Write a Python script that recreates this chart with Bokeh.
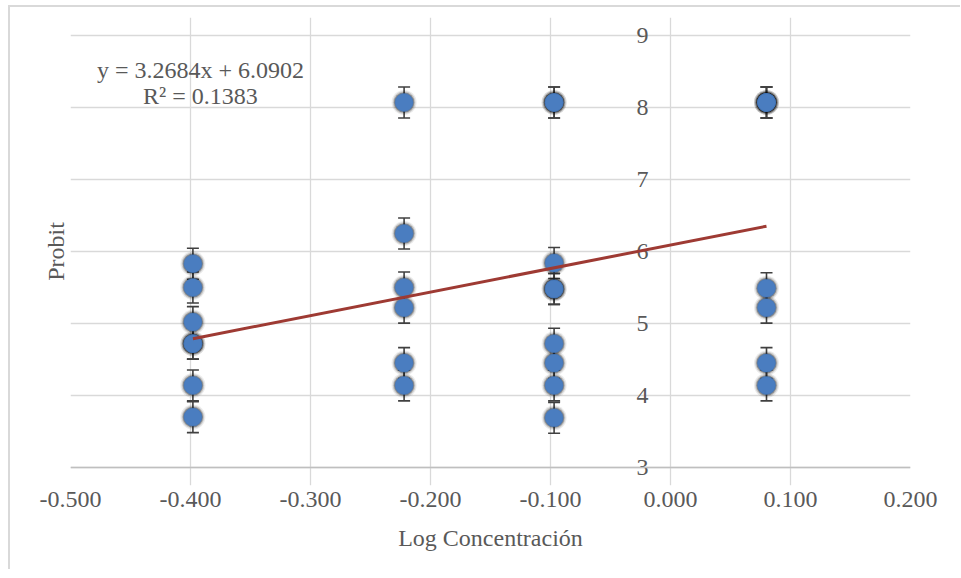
from bokeh.plotting import figure
from bokeh.models import (ColumnDataSource, FixedTicker, Whisker, TeeHead, Label, Range1d, Span)
from bokeh.core.properties import value
from bokeh.embed import file_html
from bokeh.resources import INLINE

# ---- data ----
log_conc = [-0.398, -0.398, -0.398, -0.398, -0.398, -0.398, -0.398,
            -0.222, -0.222, -0.222, -0.222, -0.222, -0.222,
            -0.097, -0.097, -0.097, -0.097, -0.097, -0.097, -0.097, -0.097, -0.097,
            0.080, 0.080, 0.080, 0.080, 0.080, 0.080, 0.080]
probit = [5.83, 5.50, 5.02, 4.72, 4.72, 4.14, 3.70,
          8.07, 6.25, 5.50, 5.22, 4.45, 4.14,
          8.07, 8.07, 5.84, 5.48, 5.48, 4.72, 4.45, 4.14, 3.69,
          8.07, 8.07, 8.07, 5.49, 5.22, 4.45, 4.14]
error = [0.215] * len(probit)

slope = 3.2684
intercept = 6.0902
r_squared = 0.1383

x_ticks = [-0.5, -0.4, -0.3, -0.2, -0.1, 0.0, 0.1, 0.2]
x_tick_labels = ["-0.500", "-0.400", "-0.300", "-0.200", "-0.100", "0.000", "0.100", "0.200"]
y_ticks = [3, 4, 5, 6, 7, 8, 9]
y_tick_labels = ["3", "4", "5", "6", "7", "8", "9"]
y_axis_cross = 0.0
y_min, y_max = 3, 9
pad = 0.25  # room inside the frame for the tick labels at the ends

FONT = "Liberation Serif"
TXT = "#595959"
GRID = "#d9d9d9"

p = figure(width=950, height=562, output_backend="svg", toolbar_location=None,
           x_range=Range1d(-0.5, 0.2), y_range=Range1d(y_min - pad, y_max + pad),
           frame_width=840, frame_height=468,
           min_border_left=60, min_border_right=50, min_border_top=10, min_border_bottom=84)
p.outline_line_color = None
p.background_fill_color = "white"
p.border_fill_color = "white"
p.styles = {"border-left": "2px solid #d9d9d9", "border-top": "2px solid #d9d9d9",
            "margin-left": "8px", "margin-top": "5px"}

# x axis
p.xaxis.ticker = FixedTicker(ticks=x_ticks)
p.xaxis.major_label_overrides = {t: l for t, l in zip(x_ticks, x_tick_labels)}
p.xaxis.axis_line_color = None
p.xaxis.major_tick_line_color = None
p.xaxis.minor_tick_line_color = None
p.xaxis.major_label_text_font = FONT
p.xaxis.major_label_text_font_size = "24px"
p.xaxis.major_label_text_color = TXT
p.xaxis.major_label_standoff = 0
p.xaxis.axis_label = "Log Concentración"
p.xaxis.axis_label_text_font = FONT
p.xaxis.axis_label_text_font_size = "24px"
p.xaxis.axis_label_text_font_style = "normal"
p.xaxis.axis_label_text_color = TXT
p.xaxis.axis_label_standoff = 15

# y axis title (left edge)
p.yaxis.ticker = FixedTicker(ticks=[])
p.yaxis.axis_line_color = None
p.yaxis.major_tick_line_color = None
p.yaxis.minor_tick_line_color = None
p.yaxis.axis_label = "Probit"
p.yaxis.axis_label_text_font = FONT
p.yaxis.axis_label_text_font_size = "24px"
p.yaxis.axis_label_text_font_style = "normal"
p.yaxis.axis_label_text_color = TXT
p.yaxis.axis_label_standoff = 2

p.xgrid.ticker = FixedTicker(ticks=x_ticks)
p.ygrid.ticker = FixedTicker(ticks=y_ticks)
p.xgrid.bounds = (y_min, y_max)
p.xgrid.grid_line_color = GRID
p.ygrid.grid_line_color = GRID
p.xgrid.grid_line_width = 1.3
p.ygrid.grid_line_width = 1.3

# horizontal axis line at y = 3
p.add_layout(Span(location=y_min, dimension="width", line_color="#bfbfbf", line_width=1.3))

# y tick labels at the x = 0 crossing
ysrc = ColumnDataSource(dict(x=[y_axis_cross] * len(y_ticks), y=y_ticks, t=y_tick_labels))
p.text(x="x", y="y", text="t", source=ysrc, x_offset=-22, text_align="right",
       text_baseline="middle", text_font=value(FONT), text_font_size="24px", text_color=TXT)

src = ColumnDataSource(dict(x=log_conc, y=probit,
                            lo=[a - e for a, e in zip(probit, error)],
                            hi=[a + e for a, e in zip(probit, error)]))

w = Whisker(base="x", lower="lo", upper="hi", source=src, dimension="height",
            line_color="#404040", line_width=1.6,
            upper_head=TeeHead(size=12, line_color="#404040", line_width=1.6),
            lower_head=TeeHead(size=12, line_color="#404040", line_width=1.6))
p.add_layout(w)

# marker shadows (soft dark halo)
p.scatter("x", "y", source=src, size=25, fill_color="black", fill_alpha=0.08, line_color=None)
p.scatter("x", "y", source=src, size=22.5, fill_color="black", fill_alpha=0.15, line_color=None)
p.scatter("x", "y", source=src, size=20.5, fill_color="black", fill_alpha=0.3, line_color=None)
p.scatter("x", "y", source=src, size=18, fill_color="#4a7dc0", line_color="#4072b3", line_width=0.6)

# trendline
x_min, x_max = min(log_conc), max(log_conc)
p.line([x_min, x_max], [slope * x_min + intercept, slope * x_max + intercept],
       line_color="#9e3a33", line_width=3)

eq = Label(x=-0.3917, y=8.514, text=f"y = {slope}x + {intercept}", text_align="center",
           text_baseline="middle", text_font=FONT, text_font_size="24px", text_color=TXT)
r2 = Label(x=-0.3917, y=8.153, text=f"R² = {r_squared}", text_align="center",
           text_baseline="middle", text_font=FONT, text_font_size="24px", text_color=TXT)
p.add_layout(eq)
p.add_layout(r2)

open("out.html", "w").write(file_html(p, INLINE))
